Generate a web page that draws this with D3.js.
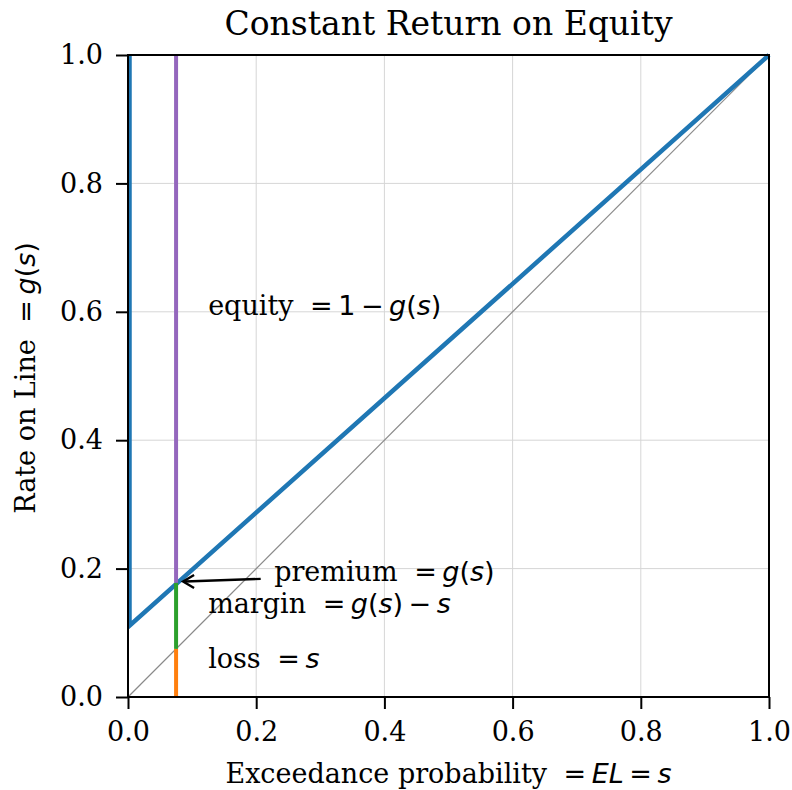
<!DOCTYPE html>
<html>
<head>
<meta charset="utf-8">
<script src="https://cdn.jsdelivr.net/npm/d3@7"></script>
<style>
  body { margin: 0; background: #fff; }
  text { font-family: "DejaVu Serif", serif; white-space: pre; }
  .math { font-family: "DejaVu Sans", sans-serif; font-style: italic; }
  .up { font-family: "DejaVu Sans", sans-serif; font-style: normal; }
</style>
</head>
<body>
<svg id="chart" width="792" height="790"></svg>
<script>
// Constant return on equity: r = 12.5%, so g(s) = v*s + d with v = 1/(1+r), d = r/(1+r)
const ticks = [0, 0.2, 0.4, 0.6, 0.8, 1.0];
const distortionS = [0, 0, 1];          // blue distortion curve, s
const distortionG = [1, 0.1111, 1];     // blue distortion curve, g(s)
const diagonalS = [0, 1];
const s0 = 0.075;                        // selected exceedance probability
const g0 = 0.1778;                       // premium g(s0)
const segmentNames = ["loss", "margin", "equity"];
const segmentFrom = [0, s0, g0];
const segmentTo = [s0, g0, 1];
const segmentColors = ["#ff7f0e", "#2ca02c", "#9467bd"];

const svg = d3.select("#chart");
const m = { left: 128, right: 769, top: 55, bottom: 697 };
const x = d3.scaleLinear().domain([0, 1]).range([m.left, m.right]);
const y = d3.scaleLinear().domain([0, 1]).range([m.bottom, m.top]);
const FS = 27;
const SP = 5.5;   // math operator spacing, px

// grid
const grid = svg.append("g");
ticks.forEach(t => {
  grid.append("line").attr("x1", x(t)).attr("x2", x(t)).attr("y1", y(0)).attr("y2", y(1))
    .attr("stroke", "#d6d6d6").attr("stroke-width", 1);
  grid.append("line").attr("x1", x(0)).attr("x2", x(1)).attr("y1", y(t)).attr("y2", y(t))
    .attr("stroke", "#d6d6d6").attr("stroke-width", 1);
});

// diagonal g(s) = s
svg.append("path")
  .attr("d", d3.line()(diagonalS.map(d => [x(d), y(d)])))
  .attr("stroke", "#8a8a8a").attr("stroke-width", 1.2).attr("fill", "none");

// distortion function
svg.append("path")
  .attr("d", d3.line()(distortionS.map((d, i) => [x(d) + (i < 2 ? 1.5 : 0), y(distortionG[i])])))
  .attr("stroke", "#1f77b4").attr("stroke-width", 4.5).attr("fill", "none");

// loss / margin / equity segments
segmentNames.forEach((n, i) => {
  svg.append("line")
    .attr("x1", x(s0)).attr("x2", x(s0))
    .attr("y1", y(segmentFrom[i])).attr("y2", y(segmentTo[i]))
    .attr("stroke", segmentColors[i]).attr("stroke-width", 4);
});

// axes
const fmt = d3.format(".1f");
const xAxis = d3.axisBottom(x).tickValues(ticks).tickFormat(fmt).tickSizeInner(12).tickSizeOuter(0).tickPadding(13);
const yAxis = d3.axisLeft(y).tickValues(ticks).tickFormat(fmt).tickSizeInner(12).tickSizeOuter(0).tickPadding(13);
const gx = svg.append("g").attr("transform", `translate(0,${m.bottom})`).call(xAxis);
const gy = svg.append("g").attr("transform", `translate(${m.left},0)`).call(yAxis);
[gx, gy].forEach(g => {
  g.select(".domain").remove();
  g.selectAll(".tick line").attr("stroke", "#000").attr("stroke-width", 2);
  g.selectAll(".tick text").attr("font-family", "DejaVu Serif").attr("font-size", FS).attr("fill", "#000");
});

// spines
svg.append("rect").attr("x", m.left).attr("y", m.top)
  .attr("width", m.right - m.left).attr("height", m.bottom - m.top)
  .attr("fill", "none").attr("stroke", "#000").attr("stroke-width", 2);

// title
svg.append("text").attr("x", (m.left + m.right) / 2).attr("y", 35)
  .attr("text-anchor", "middle").attr("font-size", 33).text("Constant Return on Equity");

// mixed serif / math text: parts are [class, text, dx]
function addParts(t, parts) {
  parts.forEach(([cls, s, dx]) => {
    const sp = t.append("tspan").text(s);
    if (cls) sp.attr("class", cls);
    if (dx) sp.attr("dx", dx);
  });
}

// x label
const xl = svg.append("text").attr("x", (m.left + m.right) / 2).attr("y", 783)
  .attr("text-anchor", "middle").attr("font-size", FS);
addParts(xl, [[null, "Exceedance probability "], ["up", "=", 8], ["math", "EL", SP], ["up", "=", SP], ["math", "s", SP]]);

// y label
const yl = svg.append("text").attr("transform", `translate(35,${(m.top + m.bottom) / 2 + 2}) rotate(-90)`)
  .attr("text-anchor", "middle").attr("font-size", FS);
addParts(yl, [[null, "Rate on Line "], ["up", "=", 8], ["math", "g", SP], ["up", "("], ["math", "s"], ["up", ")"]]);

// annotations
function label(xv, yv, parts) {
  const t = svg.append("text").attr("x", x(xv)).attr("y", y(yv)).attr("dy", "0.35em").attr("font-size", FS);
  addParts(t, parts);
}
label(0.125, 0.61, [[null, "equity "], ["up", "=", 8], ["up", "1", SP], ["up", "\u2212", SP], ["math", "g", SP], ["up", "("], ["math", "s"], ["up", ")"]]);
label(0.228, 0.196, [[null, "premium "], ["up", "=", 8], ["math", "g", SP], ["up", "("], ["math", "s"], ["up", ")"]]);
label(0.125, 0.145, [[null, "margin "], ["up", "=", 8], ["math", "g", SP], ["up", "("], ["math", "s"], ["up", ")"], ["up", "\u2212", SP], ["math", "s", SP]]);
label(0.125, 0.06, [[null, "loss "], ["up", "=", 8], ["math", "s", SP]]);

// arrow to the premium point
const ax0 = x(0.207), ay0 = y(0.184), ax1 = x(s0) + 7, ay1 = y(0.18);
svg.append("line").attr("x1", ax0).attr("y1", ay0).attr("x2", ax1 + 2).attr("y2", ay1)
  .attr("stroke", "#000").attr("stroke-width", 2.4);
svg.append("path")
  .attr("d", `M${ax1 + 11},${ay1 - 6.5} L${ax1},${ay1} L${ax1 + 11},${ay1 + 6.5}`)
  .attr("stroke", "#000").attr("stroke-width", 2.4).attr("fill", "none");
</script>
</body>
</html>
